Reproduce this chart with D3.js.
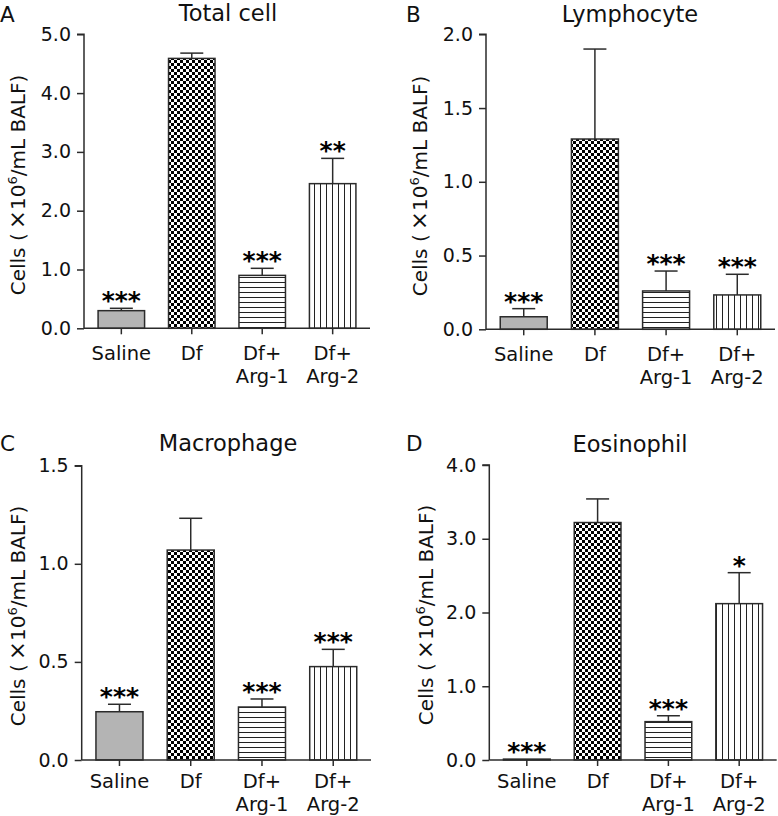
<!DOCTYPE html>
<html>
<head>
<meta charset="utf-8">
<script src="https://cdn.jsdelivr.net/npm/d3@7"></script>
<style>
  html, body { margin: 0; padding: 0; background: #fff; }
  svg { display: block; font-family: "DejaVu Sans", Verdana, sans-serif; }
</style>
</head>
<body>
<svg id="chart" width="778" height="816"></svg>
<script>
// ---- data ----
const categories = ["Saline", "Df", "Df+\nArg-1", "Df+\nArg-2"];
const fills = ["gray", "checker", "hlines", "vlines"];

const totalCellMean = [0.30, 4.59, 0.90, 2.46];
const totalCellSem  = [0.04, 0.09, 0.12, 0.43];
const totalCellSig  = ["***", "", "***", "**"];
const totalCellTicks = [0, 1, 2, 3, 4, 5];

const lymphMean = [0.085, 1.29, 0.26, 0.233];
const lymphSem  = [0.055, 0.61, 0.135, 0.14];
const lymphSig  = ["***", "", "***", "***"];
const lymphTicks = [0, 0.5, 1.0, 1.5, 2.0];

const macroMean = [0.246, 1.07, 0.27, 0.476];
const macroSem  = [0.038, 0.162, 0.041, 0.088];
const macroSig  = ["***", "", "***", "***"];
const macroTicks = [0, 0.5, 1.0, 1.5];

const eosMean = [0.012, 3.22, 0.52, 2.12];
const eosSem  = [0.0, 0.32, 0.08, 0.42];
const eosSig  = ["***", "", "***", "*"];
const eosTicks = [0, 1, 2, 3, 4];

// ---- layout (styles / positions) ----
const panels = [
  { letter: "A", title: "Total cell", mean: totalCellMean, sem: totalCellSem, sig: totalCellSig, ticks: totalCellTicks,
    x0: 84, x1: 370, yTop: 34.3, yBot: 328.3, lx: 0, ly: 22, tx: 228, ty: 21, ylx: 25, yly: 185, catDy: 32 },
  { letter: "B", title: "Lymphocyte", mean: lymphMean, sem: lymphSem, sig: lymphSig, ticks: lymphTicks,
    x0: 486, x1: 775, yTop: 34.3, yBot: 329.3, lx: 406, ly: 22, tx: 630, ty: 22, ylx: 427, yly: 186, catDy: 31.5 },
  { letter: "C", title: "Macrophage", mean: macroMean, sem: macroSem, sig: macroSig, ticks: macroTicks,
    x0: 81.7, x1: 371, yTop: 465.7, yBot: 760, lx: 0, ly: 451, tx: 228, ty: 451, ylx: 25, yly: 616, catDy: 28 },
  { letter: "D", title: "Eosinophil", mean: eosMean, sem: eosSem, sig: eosSig, ticks: eosTicks,
    x0: 489.3, x1: 776.7, yTop: 465, yBot: 760, lx: 406, ly: 451, tx: 630, ty: 452, ylx: 433, yly: 615, catDy: 28 }
];

const ink = "#2b2b2b";
const svg = d3.select("#chart");
const defs = svg.append("defs");

// checkerboard
const chk = defs.append("pattern").attr("id", "checker").attr("patternUnits", "userSpaceOnUse")
  .attr("width", 6).attr("height", 6);
chk.append("rect").attr("width", 6).attr("height", 6).attr("fill", "#fff");
chk.append("rect").attr("x", 0).attr("y", 0).attr("width", 3).attr("height", 3).attr("fill", "#000");
chk.append("rect").attr("x", 3).attr("y", 3).attr("width", 3).attr("height", 3).attr("fill", "#000");

// horizontal lines
const hl = defs.append("pattern").attr("id", "hlines").attr("patternUnits", "userSpaceOnUse")
  .attr("width", 6).attr("height", 5);
hl.append("rect").attr("width", 6).attr("height", 5).attr("fill", "#fff");
hl.append("line").attr("x1", 0).attr("x2", 6).attr("y1", 2.5).attr("y2", 2.5)
  .attr("stroke", "#222").attr("stroke-width", 1);

// vertical lines
const vl = defs.append("pattern").attr("id", "vlines").attr("patternUnits", "userSpaceOnUse")
  .attr("width", 6).attr("height", 6);
vl.append("rect").attr("width", 6).attr("height", 6).attr("fill", "#fff");
vl.append("line").attr("y1", 0).attr("y2", 6).attr("x1", 2.5).attr("x2", 2.5)
  .attr("stroke", "#222").attr("stroke-width", 1);

function fillFor(f) {
  if (f === "gray") return "#b4b4b4";
  return "url(#" + f + ")";
}

panels.forEach(p => {
  const g = svg.append("g");
  const y = d3.scaleLinear().domain([d3.min(p.ticks), d3.max(p.ticks)]).range([p.yBot, p.yTop]);
  const x = d3.scaleBand().domain(categories).range([p.x0, p.x1]).paddingInner(0.34).paddingOuter(0.2);

  // bars
  g.selectAll("rect.bar").data(categories).enter().append("rect")
    .attr("class", "bar")
    .attr("x", d => x(d))
    .attr("width", x.bandwidth())
    .attr("y", (d, i) => y(p.mean[i]))
    .attr("height", (d, i) => p.yBot - y(p.mean[i]))
    .attr("fill", (d, i) => fillFor(fills[i]))
    .attr("stroke", ink).attr("stroke-width", 1.5);

  // error bars
  const capW = 23;
  categories.forEach((c, i) => {
    if (p.sem[i] <= 0) return;
    const cx = x(c) + x.bandwidth() / 2;
    g.append("line").attr("x1", cx).attr("x2", cx)
      .attr("y1", y(p.mean[i])).attr("y2", y(p.mean[i] + p.sem[i]))
      .attr("stroke", ink).attr("stroke-width", 1.5);
    g.append("line").attr("x1", cx - capW / 2).attr("x2", cx + capW / 2)
      .attr("y1", y(p.mean[i] + p.sem[i])).attr("y2", y(p.mean[i] + p.sem[i]))
      .attr("stroke", ink).attr("stroke-width", 1.5);
  });

  // significance stars
  categories.forEach((c, i) => {
    if (!p.sig[i]) return;
    const cx = x(c) + x.bandwidth() / 2;
    g.append("text").attr("x", cx).attr("y", y(p.mean[i] + p.sem[i]) + 1)
      .attr("text-anchor", "middle").attr("font-size", 25).attr("font-weight", "bold").attr("fill", "#000")
      .text(p.sig[i]);
  });

  // y axis
  const yAxis = d3.axisLeft(y).tickValues(p.ticks).tickFormat(d3.format(".1f")).tickSize(7).tickPadding(6);
  const ya = g.append("g").attr("transform", `translate(${p.x0},0)`).call(yAxis);
  ya.select(".domain").attr("stroke", ink).attr("stroke-width", 1.5).attr("d", `M-7,${p.yTop}H0V${p.yBot}`);
  ya.selectAll(".tick line").attr("stroke", ink).attr("stroke-width", 1.5);
  ya.selectAll(".tick text").attr("font-size", 19).attr("fill", "#111").attr("font-family", "DejaVu Sans");

  // x axis
  const xAxis = d3.axisBottom(x).tickSize(6).tickFormat("");
  const xa = g.append("g").attr("transform", `translate(0,${p.yBot})`).call(xAxis);
  xa.select(".domain").attr("stroke", ink).attr("stroke-width", 1.5).attr("d", `M${p.x0},0H${p.x1}`);
  xa.selectAll(".tick line").attr("stroke", ink).attr("stroke-width", 1.5);

  // category labels
  categories.forEach(c => {
    const cx = x(c) + x.bandwidth() / 2;
    const t = g.append("text").attr("text-anchor", "middle").attr("font-size", 19.5).attr("fill", "#111")
      .attr("x", cx).attr("y", p.yBot + p.catDy);
    c.split("\n").forEach((line, k) => {
      t.append("tspan").attr("x", cx).attr("dy", k === 0 ? 0 : 23).text(line);
    });
  });

  // y label
  const yl = g.append("text").attr("transform", `translate(${p.ylx},${p.yly}) rotate(-90)`)
    .attr("text-anchor", "middle").attr("font-size", 20).attr("fill", "#111");
  yl.append("tspan").text("Cells (\u2009");
  yl.append("tspan").attr("font-size", 23).text("\u00D7");
  yl.append("tspan").text("10");
  yl.append("tspan").attr("font-size", 13).attr("dy", -8).text("6");
  yl.append("tspan").attr("dy", 8).text("/mL BALF)");

  // title
  g.append("text").attr("x", p.tx).attr("y", p.ty).attr("text-anchor", "middle")
    .attr("font-size", 22.5).attr("fill", "#111").text(p.title);

  // panel letter
  g.append("text").attr("x", p.lx).attr("y", p.ly).attr("font-size", 21.5).attr("fill", "#111").text(p.letter);
});
</script>
</body>
</html>
